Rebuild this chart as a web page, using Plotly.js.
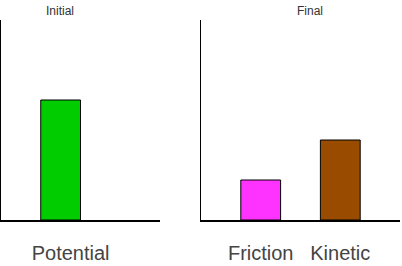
<!DOCTYPE html>
<html>
<head>
<meta charset="utf-8">
<script src="https://cdn.plot.ly/plotly-3.0.1.min.js"></script>
<style>html,body{margin:0;padding:0;background:#fff;}#chart{width:402px;height:266px;}</style>
</head>
<body>
<div id="chart"></div>
<script>
var initialCategories = ["Potential"];
var initialValues = [3];
var initialColors = ["#00CC00"];
var finalCategories = ["Friction", "Kinetic"];
var finalValues = [1, 2];
var finalColors = ["#FF33FF", "#994C00"];
var panelTitles = ["Initial", "Final"];

var W = 402, H = 266;
var font = "Liberation Sans, Arial, sans-serif";

var traces = [
  {type: "bar", x: initialCategories, y: initialValues, xaxis: "x", yaxis: "y",
   width: 0.5, marker: {color: initialColors, line: {color: "#000", width: 1}}, hoverinfo: "skip"},
  {type: "bar", x: finalCategories, y: finalValues, xaxis: "x2", yaxis: "y2",
   width: 0.5, marker: {color: finalColors, line: {color: "#000", width: 1}}, hoverinfo: "skip"}
];

var ydom = [46 / H, 246 / H];
function xax(dom, range, shift) {
  return {domain: dom, range: range, type: "category", showgrid: false, zeroline: false,
    showline: true, linecolor: "#000", linewidth: 1.5, ticks: "", ticklabelshift: shift,
    ticklabelstandoff: 14, tickfont: {family: font, size: 20, color: "#444"}, fixedrange: true};
}
function yax(anchor) {
  return {domain: ydom, range: [0, 5], anchor: anchor, showgrid: false, zeroline: false,
    showline: true, linecolor: "#000", linewidth: 1.5, showticklabels: false, ticks: "", fixedrange: true};
}

var layout = {
  width: W, height: H, margin: {l: 0, r: 0, t: 0, b: 0},
  paper_bgcolor: "#fff", plot_bgcolor: "#fff", showlegend: false, bargap: 0,
  xaxis: xax([1 / W, 160 / W], [-0.75, 1.25], 10),
  yaxis: yax("x"),
  xaxis2: xax([201 / W, 400 / W], [-0.75, 1.75], 0),
  yaxis2: yax("x2"),
  annotations: [
    {text: panelTitles[0], xref: "paper", yref: "paper", x: 60 / W, y: 1 - 11 / H,
     xanchor: "center", yanchor: "middle", showarrow: false, font: {family: font, size: 12, color: "#333"}},
    {text: panelTitles[1], xref: "paper", yref: "paper", x: 310 / W, y: 1 - 11 / H,
     xanchor: "center", yanchor: "middle", showarrow: false, font: {family: font, size: 12, color: "#333"}}
  ],
  hovermode: false
};

Plotly.newPlot("chart", traces, layout, {displayModeBar: false, staticPlot: true});
</script>
</body>
</html>
